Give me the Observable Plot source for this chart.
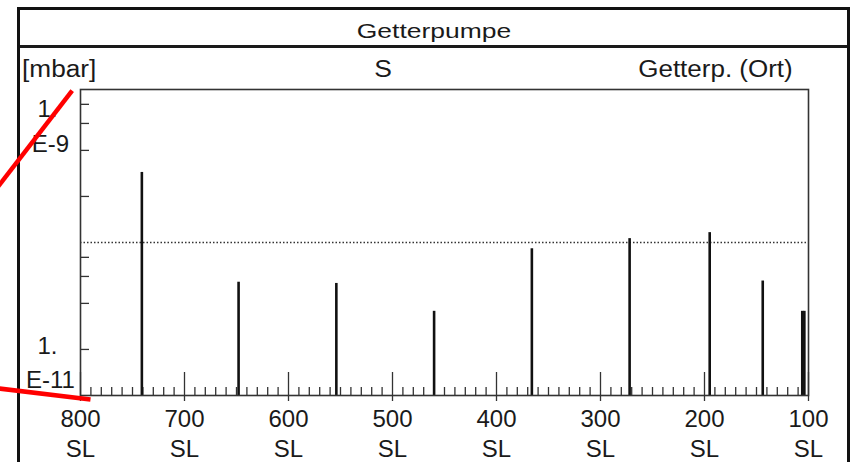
<!DOCTYPE html>
<html>
<head>
<meta charset="utf-8">
<script src="https://cdn.jsdelivr.net/npm/d3@7"></script>
<script src="https://cdn.jsdelivr.net/npm/@observablehq/plot@0.6"></script>
<style>
  body { margin: 0; background: #fff; font-family: "Liberation Sans", Arial, sans-serif; color: #1a1a1a; }
  #wrap { position: relative; width: 853px; height: 462px; overflow: hidden; background: #fff; }
  #box { position: absolute; left: 17px; top: 7px; width: 827px; height: 480px; border: 3px solid #111; border-bottom: none; }
  #sep { position: absolute; left: 20px; top: 45px; width: 827px; height: 2.5px; background: #1a1a1a; }
  .t { position: absolute; white-space: nowrap; line-height: 1; }
  #title { left: 433.5px; top: 19.7px; font-size: 21px; transform: translateX(-50%) scaleX(1.26); }
  #unit { left: 21.5px; top: 57.5px; font-size: 23px; transform-origin: left center; transform: scaleX(1.14); }
  #ser { left: 382.5px; top: 57.5px; font-size: 23px; transform: translateX(-50%) scaleX(1.15); }
  #loc { right: 60.5px; top: 57.5px; font-size: 23px; transform-origin: right center; transform: scaleX(1.13); }
  #chart { position: absolute; left: 0; top: 79px; }
</style>
</head>
<body>
<div id="wrap">
  <div id="box"></div>
  <div id="sep"></div>
  <div class="t" id="title">Getterpumpe</div>
  <div class="t" id="unit">[mbar]</div>
  <div class="t" id="ser">S</div>
  <div class="t" id="loc">Getterp. (Ort)</div>
  <div id="chart"></div>
</div>
<script>
// Peak positions (x axis, reversed 800 -> 100) and pressures [mbar]
const peakPos = [741, 648, 554, 460, 366, 272, 195, 144, 106, 104];
const peakVal = [2.87e-10, 5.5e-11, 5.4e-11, 3.55e-11, 9.1e-11, 1.06e-10, 1.16e-10, 5.6e-11, 3.55e-11, 3.55e-11];

// Reference (dotted) level
const refLevel = [1e-10];

// Axis ticks and labels
const xMajor = [800, 700, 600, 500, 400, 300, 200, 100];
const xMinor = d3.range(110, 800, 10).filter(d => d % 100 !== 0);
const xLabelSuffix = "SL";
const yTicks = [2e-11, 4e-11, 6e-11, 8e-11, 2e-10, 4e-10, 6e-10, 8e-10];
const yLabelTop = ["1.", "E-9"];
const yLabelBottom = ["1.", "E-11"];
const yDomain = [1e-11, 1e-9];
const xDomain = [800, 100];

// Red callout lines (in data coordinates)
const callouts = [
  {x1: 808, y1: 0.985e-9, x2: 886.5, y2: 2.0e-10},
  {x1: 886.5, y1: 1.128e-11, x2: 790.4, y2: 0.942e-11}
];

const peaks = peakPos.map((p, i) => ({pos: p, val: peakVal[i]}));

const W = 853, H = 383, mT = 10, mB = 67, mL = 80, mR = 45;
const innerW = W - mL - mR, innerH = H - mT - mB;

const plot = Plot.plot({
  width: W,
  height: H,
  marginTop: mT,
  marginBottom: mB,
  marginLeft: mL,
  marginRight: mR,
  style: {background: "transparent", overflow: "visible", fontFamily: "Liberation Sans, Arial, sans-serif", color: "#1a1a1a"},
  x: {type: "linear", domain: xDomain, axis: null},
  y: {type: "log", domain: yDomain, axis: null},
  marks: [
    Plot.ruleY(refLevel, {y: d => d, stroke: "#333", strokeWidth: 1.3, strokeDasharray: "1.5 2"}),
    Plot.ruleY(yTicks, {y: d => d, insetRight: innerW - 9, stroke: "#333", strokeWidth: 1.3}),
    Plot.ruleX(xMinor, {x: d => d, insetTop: innerH - 8, stroke: "#333", strokeWidth: 1.3}),
    Plot.ruleX(xMajor, {x: d => d, insetTop: innerH - 23, insetBottom: -6, stroke: "#333", strokeWidth: 1.3}),
    Plot.ruleX(peaks, {x: "pos", y1: yDomain[0], y2: "val", stroke: "#111", strokeWidth: 2.6}),
    Plot.frame({stroke: "#333", strokeWidth: 1.6}),
    Plot.text(xMajor, {x: d => d, y: yDomain[0], text: d => `${d}\n${xLabelSuffix}`, lineAnchor: "top", dy: 11, lineHeight: 1.22, fontSize: 24, fill: "#1a1a1a"}),
    Plot.text([yLabelTop[0]], {x: xDomain[0], y: yDomain[1], text: d => d, dx: -33, dy: 20, fontSize: 24, fill: "#1a1a1a"}),
    Plot.text([yLabelTop[1]], {x: xDomain[0], y: yDomain[1], text: d => d, dx: -30, dy: 55, fontSize: 24, fill: "#1a1a1a"}),
    Plot.text([yLabelBottom[0]], {x: xDomain[0], y: yDomain[0], text: d => d, dx: -33, dy: -49, fontSize: 24, fill: "#1a1a1a"}),
    Plot.text([yLabelBottom[1]], {x: xDomain[0], y: yDomain[0], text: d => d, dx: -30, dy: -15, fontSize: 24, fill: "#1a1a1a"}),
    Plot.link(callouts, {x1: "x1", y1: "y1", x2: "x2", y2: "y2", stroke: "#f00", strokeWidth: 4.5})
  ]
});
document.getElementById("chart").appendChild(plot);
</script>
</body>
</html>
